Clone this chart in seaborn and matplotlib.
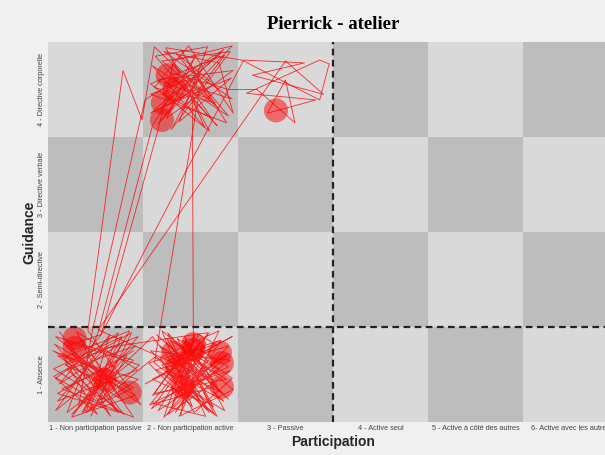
import numpy as np
import pandas as pd
import seaborn as sns
import matplotlib.pyplot as plt
from matplotlib.colors import ListedColormap

participation = ["1 - Non participation passive", "2 - Non participation active", "3 - Passive",
                 "4 - Active seul", "5 - Active à côté des autres", "6- Active avec les autres"]
guidance = ["1 - Absence", "2 - Semi-directive", "3 - Directive verbale", "4 - Directive corporelle"]

# trajectory, in category units (cell centre = integer)
path_x = [0.62, 1.30, 0.70, 1.42, 0.58, 1.15, 0.90, 1.45, 0.60, 1.25, 0.85, 1.40, 0.65, 1.20, 0.95, 1.38, 0.56, 1.05, 1.33, 0.75,
          1.60, 2.20, 1.70, 2.40, 1.80, 2.05, 1.62, 2.38, 1.95, 2.25, 1.58, 2.42, 1.85, 2.10, 1.66, 2.30, 1.75, 2.15, 1.60, 2.44,
          1.52, 2.22, 1.88, 2.45, 1.70, 2.02, 1.56, 2.32, 1.84, 2.14, 1.64, 2.40, 1.96, 2.28, 1.74, 2.08, 1.59, 2.36, 1.90, 2.18,
          1.10, 0.60, 1.44, 0.80, 1.22, 0.57, 1.35, 0.88, 1.48, 0.92,
          1.29, 1.49,
          1.62, 2.30, 1.70, 2.42, 1.80, 2.10, 1.58, 2.38, 1.90, 2.20, 1.65, 2.45, 1.75, 2.05, 1.60,
          1.03, 0.70, 1.40, 0.58, 1.18, 0.68, 1.45, 0.82, 0.97,
          1.52, 2.35, 1.68, 2.25, 1.85, 2.40, 1.60, 2.15, 1.95, 2.44, 1.72, 2.30, 2.45,
          1.98, 1.62, 2.26, 1.80, 2.44, 1.66, 2.12, 1.92, 2.36, 1.58, 2.20, 1.74,
          2.54, 3.36, 3.46, 3.36, 2.59, 3.32, 2.81, 3.00, 3.10, 2.70,
          2.40, 1.78, 2.28, 1.63, 2.18, 1.88, 2.43, 2.02,
          2.03, 1.90, 2.00, 1.68, 2.35, 1.82, 2.20, 1.57, 2.28, 1.98, 1.72, 2.40, 1.88, 2.12, 1.64, 2.36, 1.94, 2.06, 1.78, 2.26, 2.09,
          1.60, 2.42, 1.76, 2.16, 1.94, 2.30, 1.68, 2.04, 2.44, 1.86, 2.24, 1.62,
          2.10, 1.58, 2.32, 1.70, 2.22, 1.82, 1.66,
          1.06, 0.62, 1.30, 0.75, 1.42, 0.55, 1.12, 0.88, 1.36, 0.66, 1.02,
          0.58, 1.24, 0.94, 1.46, 0.72, 1.16, 0.64, 1.40, 0.86, 1.28, 0.56, 1.08,
          1.62, 2.34, 1.76, 2.16, 1.60, 2.40, 1.92, 2.24,
          1.03, 3.00, 3.40, 2.65, 3.20, 2.56, 1.06, 0.70, 1.25, 0.60, 1.40]
path_y = [1.45, 0.58, 1.05, 1.30, 0.62, 1.42, 0.60, 0.95, 1.20, 0.75, 1.38, 0.55, 0.85, 1.10, 0.56, 1.44, 0.98, 0.70, 1.20, 0.58,
          1.40, 0.60, 1.10, 1.30, 0.65, 1.42, 0.80, 0.95, 1.20, 0.58, 1.25, 1.15, 0.75, 1.35, 0.62, 1.05, 1.38, 0.70, 0.95, 1.40,
          0.90, 1.26, 0.56, 0.84, 1.46, 0.66, 1.12, 1.36, 0.60, 1.00, 1.42, 0.74, 1.16, 0.56, 0.98, 1.30, 0.64, 1.20, 0.82, 1.44,
          1.28, 0.72, 1.05, 1.45, 0.62, 1.32, 0.85, 1.15, 0.68, 1.46,
          4.20, 3.68,
          4.45, 3.80, 4.30, 4.40, 3.58, 4.15, 3.95, 3.65, 4.42, 3.90, 4.10, 4.20, 3.70, 4.35, 3.62,
          1.45, 0.60, 1.15, 1.40, 0.88, 1.10, 1.40, 0.66, 1.47,
          3.89, 4.42, 3.80, 4.05, 4.38, 3.72, 4.25, 3.60, 4.05, 3.90, 4.40, 4.28, 3.75,
          4.46, 4.02, 3.86, 4.30, 4.46, 3.64, 4.22, 3.78, 4.36, 4.06, 3.56, 4.44,
          4.31, 3.89, 4.27, 4.31, 3.96, 3.89, 3.75, 4.10, 3.65, 4.00,
          4.00, 4.18, 3.62, 4.35, 4.45, 3.66, 4.12, 3.95,
          1.40, 0.58, 1.10, 1.30, 0.72, 1.02, 1.44, 0.68, 0.88, 1.28, 0.55, 1.22, 0.92, 1.18, 1.05, 0.62, 1.40, 0.80, 1.15, 1.32, 1.42,
          0.78, 1.04, 0.58, 1.34, 0.70, 1.46, 1.18, 0.60, 0.96, 1.38, 0.66, 1.12,
          4.02, 3.75, 4.38, 3.95, 3.70, 4.28, 3.58,
          1.42, 0.90, 1.35, 0.55, 0.78, 1.25, 1.02, 0.62, 1.46, 1.18, 0.58,
          0.96, 1.44, 0.64, 1.10, 1.34, 0.56, 1.22, 0.86, 0.60, 1.40, 1.06, 0.74,
          1.18, 0.80, 1.44, 0.56, 0.70, 1.08, 1.36, 0.94,
          1.47, 4.30, 3.95, 4.15, 4.28, 4.31, 1.42, 1.30, 0.60, 0.80, 1.25]

# long stays (circles)
dwell_x = [0.78, 0.78, 1.10, 1.36, 1.82, 2.03, 2.31, 2.33, 2.33, 1.92, 1.86, 2.03, 1.76, 1.83, 1.71, 1.70, 2.90]
dwell_y = [1.38, 1.28, 0.94, 0.81, 1.23, 1.26, 1.23, 1.12, 0.87, 0.87, 1.08, 1.32, 4.15, 4.00, 3.86, 3.68, 3.78]

sns.set_theme(style="white")
plt.rcParams['font.family'] = ['Liberation Sans', 'DejaVu Sans']

fig = plt.figure(figsize=(6.05, 4.55), dpi=100, facecolor='#f0f0f0')
ax = fig.add_axes([0.0793, 0.0725, 0.9421, 0.8352])

grid = [[(i + j) % 2 for i in range(len(participation))] for j in range(len(guidance))]
sns.heatmap(grid, cmap=ListedColormap(['#bdbdbd', '#d9d9d9']), vmin=0, vmax=1, cbar=False, ax=ax)
ax.set_xlim(0, 6)
ax.set_ylim(0, 4)

df = pd.DataFrame({'x': np.array(path_x) - 0.5, 'y': np.array(path_y) - 0.5})
sns.lineplot(data=df, x='x', y='y', sort=False, estimator=None, color='red', lw=0.6, alpha=0.8, ax=ax)
sns.scatterplot(x=np.array(dwell_x) - 0.5, y=np.array(dwell_y) - 0.5, s=300, color='red',
                alpha=0.5, edgecolor='none', ax=ax)

ax.axvline(3, color='#222222', ls=(0, (3, 2)), lw=1.6)
ax.axhline(1, color='#222222', ls=(0, (3, 2)), lw=1.6)

ax.set_xticks(np.arange(6) + 0.5)
ax.set_xticklabels(participation, fontsize=5.3, color='#444444')
ax.set_yticks(np.arange(4) + 0.5)
ax.set_yticklabels(guidance, fontsize=5.3, color='#444444', rotation=90, va='center')
ax.tick_params(length=0, pad=2)
for s in ax.spines.values():
    s.set_visible(False)

ax.set_xlabel('Participation', fontsize=10, fontweight='bold', labelpad=2)
ax.set_ylabel('Guidance', fontsize=10, fontweight='bold', labelpad=1)
ax.set_title('Pierrick - atelier', fontfamily='Liberation Serif', fontsize=13.5, fontweight='bold',
             color='black', pad=9)

fig.savefig('out.png', dpi=100, facecolor='#f0f0f0')
